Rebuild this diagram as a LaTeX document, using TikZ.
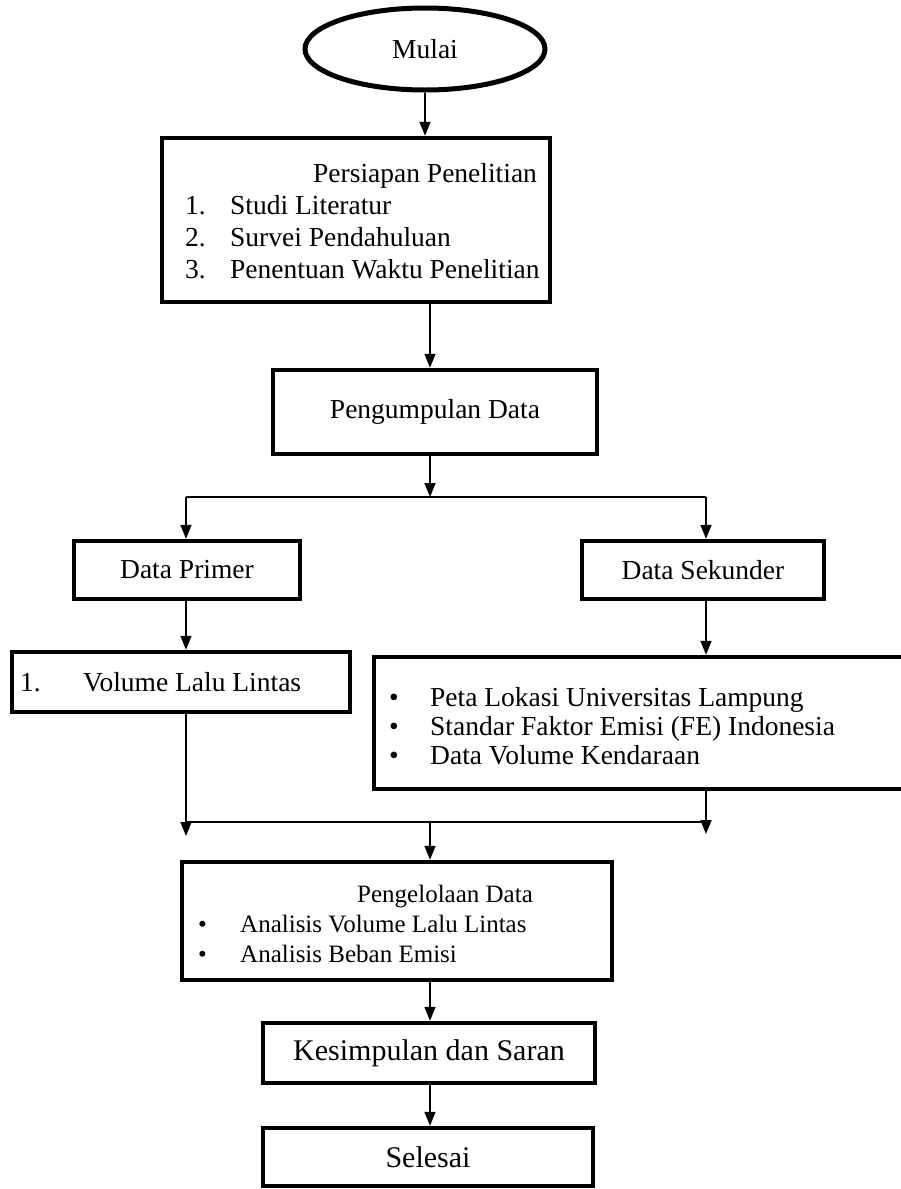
\documentclass[tikz,border=0pt]{standalone}
\usepackage{fontspec}
\setmainfont{Liberation Serif}
\usetikzlibrary{arrows.meta,shapes.geometric}
\tikzset{
  box/.style={draw, line width=4.5pt, inner sep=0pt, align=center, font=\fontsize{27.5}{31}\selectfont},
  txt/.style={inner sep=0pt, font=\fontsize{27.5}{31}\selectfont},
  stxt/.style={inner sep=0pt, font=\fontsize{25}{29}\selectfont},
  arr/.style={line width=1.6pt, -{Triangle[length=14pt,width=11pt]}},
  ln/.style={line width=1.6pt}
}
\begin{document}
\begin{tikzpicture}[x=1pt,y=-1pt]
\useasboundingbox (0,0) rectangle (900,1189);
% nodes
\node[box, ellipse, line width=5pt, minimum width=240pt, minimum height=82pt] (mulai) at (425,49) {Mulai};
\node[box, minimum width=388pt, minimum height=164pt] (persiapan) at (356,220) {};
\node[txt, anchor=base west] (p0) at (313,182) {Persiapan Penelitian};
\node[txt, anchor=base west] (p1n) at (185,214) {1.};
\node[txt, anchor=base west] (p1) at (230,214) {Studi Literatur};
\node[txt, anchor=base west] (p2n) at (185,246) {2.};
\node[txt, anchor=base west] (p2) at (230,246) {Survei Pendahuluan};
\node[txt, anchor=base west] (p3n) at (185,278) {3.};
\node[txt, anchor=base west] (p3) at (230,278) {Penentuan Waktu Penelitian};

\node[box, minimum width=324pt, minimum height=84pt] (kumpul) at (435,412) {Pengumpulan Data};

\node[box, minimum width=226pt, minimum height=58pt] (primer) at (187,570) {Data Primer};
\node[box, minimum width=242pt, minimum height=58pt] (sekunder) at (703,570) {Data Sekunder};

\node[box, minimum width=338pt, minimum height=60pt] (volume) at (181,682) {};
\node[txt, anchor=base west] (v1n) at (20,691) {1.};
\node[txt, anchor=base west] (v1) at (83,691) {Volume Lalu Lintas};

\node[box, minimum width=540pt, minimum height=132pt] (list) at (644,723) {};
\node[txt, anchor=base west] (b1) at (389,706) {\textbullet};
\node[txt, anchor=base west] (s1) at (430,706) {Peta Lokasi Universitas Lampung};
\node[txt, anchor=base west] (b2) at (389,735) {\textbullet};
\node[txt, anchor=base west] (s2) at (430,735) {Standar Faktor Emisi (FE) Indonesia};
\node[txt, anchor=base west] (b3) at (389,764) {\textbullet};
\node[txt, anchor=base west] (s3) at (430,764) {Data Volume Kendaraan};

\node[box, minimum width=430pt, minimum height=118pt] (olah) at (397,921) {};
\node[stxt, anchor=base west] (o0) at (357,902) {Pengelolaan Data};
\node[stxt, anchor=base west] (ob1) at (198,932) {\textbullet};
\node[stxt, anchor=base west] (o1) at (240,932) {Analisis Volume Lalu Lintas};
\node[stxt, anchor=base west] (ob2) at (198,962) {\textbullet};
\node[stxt, anchor=base west] (o2) at (240,962) {Analisis Beban Emisi};

\node[box, minimum width=332pt, minimum height=60pt, font=\fontsize{30}{34}\selectfont] (simpul) at (429,1053) {Kesimpulan dan Saran};
\node[box, minimum width=330pt, minimum height=58pt, font=\fontsize{30}{34}\selectfont] (selesai) at (428,1157) {Selesai};

% coordinates
\coordinate (xm) at (430,0);
\coordinate (xl) at (186,0);
\coordinate (xr) at (706,0);
\coordinate (sp) at (430,497);
\coordinate (bl) at (186,497);
\coordinate (br) at (706,497);
\coordinate (ml) at (186,822);
\coordinate (mr) at (706,822);
\coordinate (mm) at (430,822);
\coordinate (ml2) at (186,836);
\coordinate (mr2) at (706,834);

% connectors
\draw[arr] (mulai.south) -- (mulai.south |- persiapan.north);
\draw[arr] (persiapan.south -| xm) -- (kumpul.north -| xm);
\draw[arr] (kumpul.south -| xm) -- (sp);
\draw[ln] (bl) -- (br);
\draw[arr] (bl) -- (bl |- primer.north);
\draw[arr] (br) -- (br |- sekunder.north);
\draw[arr] (primer.south -| xl) -- (volume.north -| xl);
\draw[arr] (sekunder.south -| xr) -- (list.north -| xr);
\draw[ln] (ml) -- (mr);
\draw[arr] (volume.south -| xl) -- (ml2);
\draw[arr] (list.south -| xr) -- (mr2);
\draw[arr] (mm) -- (olah.north -| xm);
\draw[arr] (olah.south -| xm) -- (simpul.north -| xm);
\draw[arr] (simpul.south -| xm) -- (selesai.north -| xm);
\end{tikzpicture}
\end{document}
